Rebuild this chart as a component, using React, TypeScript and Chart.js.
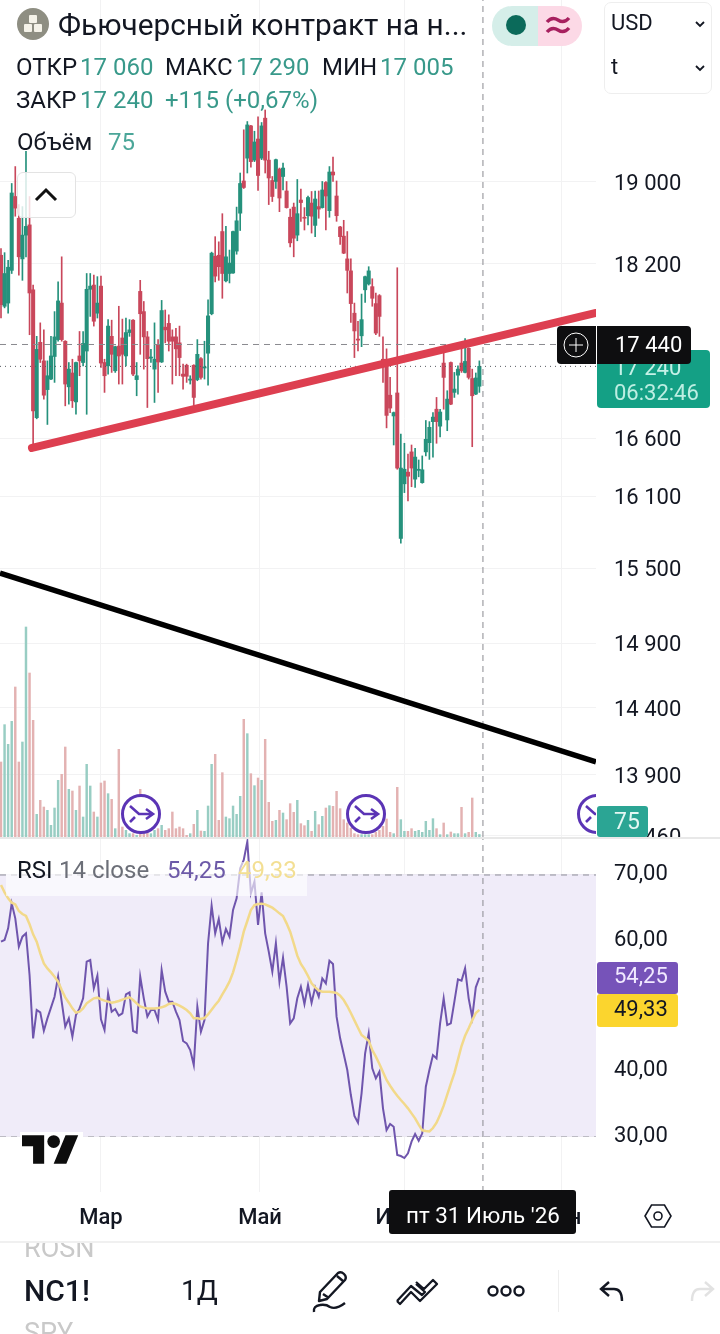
import React, { useEffect, useRef } from "react";
import { Chart, registerables } from "chart.js";

Chart.register(...registerables);

const opens = [
  18280,17795,17825,18135,18855,18640,18245,18475,18575,17950,
  16780,17460,17290,17030,17125,17330,17485,17825,17470,17055,
  17180,16920,17335,17275,17380,17955,17995,17730,17985,17275,
  17245,17515,17200,17425,17500,17335,17550,17665,17120,17935,
  17745,17510,17315,17215,17440,17280,17600,17635,17510,17510,
  17455,17170,17250,17115,17250,17120,17310,17225,17360,17725,
  18270,18280,18510,18035,18105,18110,18320,18690,19010,19240,
  19570,19220,19435,19240,19650,19220,19015,19005,19130,19055,
  18910,18650,18750,18475,18820,18650,18665,18790,18570,18755,
  18745,18995,18715,19100,18860,18555,18465,18245,18130,17730,
  17490,17520,17950,18005,17980,17820,17895,17305,17305,16980,
  16795,17000,15745,16205,16305,16480,16245,16320,16215,16480,
  16560,16745,16855,16705,17270,16760,17275,17005,17160,17270,
  17185,17405,17130,16990,17060,
];
const highs = [
  18345,18305,18230,18985,19155,18775,18755,19310,18855,17995,
  17515,17640,17575,17290,17515,17745,18025,18265,17475,17275,
  17305,17280,17560,17560,18105,18105,18090,18075,18080,17305,
  17670,17665,17425,17795,17675,17685,17670,17670,17275,18040,
  17840,17560,17395,17640,17485,17850,17760,17715,17575,17590,
  17610,17260,17260,17155,17255,17485,17320,17470,17855,18310,
  18460,18410,18685,18560,18330,18515,18750,19090,19530,19615,
  19575,19515,19665,19605,19735,19310,19055,19230,19140,19190,
  19005,18730,18790,19025,18930,18745,18860,18905,18910,18910,
  19005,19005,19155,19250,19010,18560,18620,18510,18245,17825,
  17655,17910,18080,18170,18055,17920,17905,17510,17400,17140,
  16830,18160,16635,16555,16460,16540,16510,16410,16445,16755,
  16745,16825,16960,16855,17360,17020,17280,17185,17245,17440,
  17495,17410,17215,17180,17290,
];
const lows = [
  17685,17780,17730,18105,18660,18090,18040,18265,17530,16525,
  16770,17275,16945,16720,17120,17095,17470,17470,16885,16900,
  16870,16810,17155,17245,16810,17700,17610,17685,17230,17005,
  17170,17185,17185,17080,17080,17245,17515,17155,16975,17350,
  17215,16870,17275,16915,17005,17275,17455,17380,17080,17155,
  17155,17035,17095,17080,16885,17110,17125,17125,17070,17715,
  18025,18040,17870,18025,18015,18105,18290,18520,18935,19090,
  19150,19205,18915,19225,19090,18775,18805,18935,18705,18920,
  18740,18360,18265,18420,18610,18525,18575,18495,18460,18640,
  18740,18525,18650,19005,18610,18385,18295,17920,17645,17320,
  17380,17420,17830,17995,17795,17530,17515,17095,16690,16825,
  16540,16330,15705,16130,16060,16180,16175,16265,16210,16445,
  16415,16435,16555,16610,16855,16665,16895,16960,16990,17185,
  17180,17125,16525,16985,17005,
];
const closes = [
  17810,18105,18165,18890,18740,18265,18475,18560,17920,16840,
  17395,17305,16980,17155,17335,17510,17845,17485,17080,17215,
  16930,17275,17290,17450,17955,17985,17655,17825,17270,17155,
  17610,17350,17420,17335,17350,17550,17575,17170,17155,17725,
  17510,17310,17325,17305,17280,17755,17575,17470,17470,17400,
  17320,17150,17150,17125,16960,17350,17140,17235,17705,18300,
  18080,18170,18105,18265,18205,18510,18615,18985,18945,19580,
  19205,19405,19065,19570,19220,19040,18855,19225,18840,19140,
  18745,18400,18445,18685,18795,18640,18845,18660,18830,18730,
  18920,18860,19100,19070,18665,18460,18300,18135,17820,17565,
  17480,17670,18075,18130,17870,17545,17700,17245,16800,16865,
  16825,16340,16340,16330,16270,16340,16435,16330,16325,16590,
  16695,16785,16745,16830,17140,16945,16900,17035,17215,17200,
  17285,17140,16975,17135,17240,
];
const volumes = [
  2250,3370,2780,3470,4500,2250,2850,6300,4920,3500,
  680,1100,900,800,350,870,1700,1880,2700,1430,
  1380,800,1530,600,2180,1530,750,600,1620,1680,
  1300,1130,250,2630,300,200,100,100,50,1430,
  100,120,100,200,250,350,200,250,750,250,
  300,250,50,100,380,800,180,170,930,2180,
  2480,500,1930,600,550,930,680,1220,3530,3100,
  1900,1540,1770,1700,2930,1040,470,500,800,720,
  520,1000,740,1100,400,340,500,170,770,370,
  620,870,940,920,1370,850,520,420,270,100,
  70,70,70,70,70,140,200,320,540,140,
  100,1490,520,170,170,250,170,200,140,470,
  200,550,250,70,420,70,150,100,100,890,
  100,140,1170,140,75,
];
const rsiValues = [
  59.78,60.04,61.83,65.66,63.36,59.02,60.55,61.06,54.67,44.97,
  49.31,48.95,46.14,48.03,49.67,51.35,54.42,50.59,46.75,48.03,
  45.22,48.54,49.56,51.10,56.72,56.97,52.63,54.57,47.88,46.24,
  51.86,49.05,49.46,48.44,48.80,51.71,52.02,46.09,45.83,54.42,
  51.10,48.29,49.31,49.31,47.78,55.44,52.12,50.59,50.59,49.05,
  47.78,44.56,44.20,43.18,40.88,49.82,45.99,47.78,59.53,65.30,
  61.06,63.26,59.68,61.72,60.55,64.64,66.42,71.02,72.30,75.11,
  67.19,68.98,62.34,67.34,61.06,58.25,55.18,59.53,53.65,57.33,
  52.88,47.26,48.03,51.10,52.88,50.23,53.14,50.43,52.78,51.35,
  54.16,53.39,56.87,56.36,48.29,44.97,42.56,40.11,36.28,33.06,
  32.04,36.54,42.67,45.73,40.37,38.83,39.86,34.24,30.92,31.84,
  31.43,27.08,26.93,26.62,27.34,29.13,30.30,29.28,30.41,37.56,
  40.11,42.41,41.90,47.26,51.10,47.01,47.26,50.59,54.01,53.80,
  55.69,51.10,48.18,52.79,54.25,
];
const rsiSmoothed = [
  68.47,67.34,66.42,65.76,65.50,64.48,64.02,63.72,62.44,60.91,
  59.78,57.99,56.46,55.69,55.08,54.42,53.65,52.37,51.25,50.43,
  49.56,48.90,49.05,49.56,50.33,50.74,51.10,51.20,50.94,50.74,
  50.59,50.43,50.53,50.69,50.89,51.10,51.25,50.84,50.33,49.87,
  49.67,49.56,49.56,49.56,49.62,49.72,49.92,50.23,50.33,50.23,
  49.97,49.67,49.31,48.80,48.03,48.03,47.93,48.08,48.64,49.36,
  50.08,50.74,51.71,52.63,53.65,55.08,56.97,59.02,61.31,62.95,
  64.64,65.40,65.56,65.61,65.50,65.25,64.99,64.58,64.12,63.72,
  62.59,61.31,59.53,57.64,56.36,55.54,54.52,53.40,52.78,52.32,
  52.12,52.12,52.12,52.02,51.91,51.51,50.84,49.92,48.85,47.72,
  46.60,45.48,45.07,44.61,43.18,42.16,41.03,39.81,38.58,37.71,
  36.89,36.18,35.51,34.90,34.24,33.47,32.70,31.73,30.87,30.76,
  30.71,31.22,32.04,33.27,34.65,36.33,38.02,39.65,41.70,43.79,
  45.37,46.50,47.72,48.85,49.33,
];

const priceTicks = [19000, 18200, 16600, 16100, 15500, 14900, 14400, 13900, 13460];
const rsiTicks = [70, 60, 40, 30];
const monthTicks = [28, 72.55, 113.05, 157.14];
const monthLabels = ["Мар", "Май", "Июль", "Сен"];

const X_MIN = -0.28;
const X_MAX = 166.67;
const PRICE_MIN = 13452;
const PRICE_MAX = 20913;
const VOL_MAX = 25110;
const RSI_MIN = 21.42;
const RSI_MAX = 75.67;
const CROSS_X = 135;
const CROSS_PRICE = 17440;
const LAST_PRICE = 17240;
const redTrend = [{ x: 8.68, y: 16514 }, { x: X_MAX, y: 17732 }];
const blackTrend = [{ x: X_MIN, y: 15460 }, { x: X_MAX, y: 13996 }];

const UP = "#25917c";
const DOWN = "#c9475b";
const UP_VOL = "#98cdc3";
const DOWN_VOL = "#e3b2b2";
const GRID = "#f2f2f3";
const INK = "#131722";
const TEAL_TEXT = "#38998a";
const FONT = "Roboto, sans-serif";

const hline = (y: number, color: string, dash: number[], order = 0) => ({
  type: "line" as const,
  data: [{ x: X_MIN, y }, { x: X_MAX, y }],
  borderColor: color,
  borderWidth: 1,
  borderDash: dash,
  pointRadius: 0,
  order,
});

const flatten = (s: any) => {
  s.paddingTop = 0;
  s.paddingBottom = 0;
  s.paddingLeft = 0;
  s.paddingRight = 0;
};

// Chart.js centres tick text a little above the tick; the reference sets it lower.
const nudgeLabels = (s: any, dy: number) => {
  if (s.__nudged) return;
  s.__nudged = true;
  const compute = s._computeLabelItems.bind(s);
  s._computeLabelItems = (area: any) => {
    const items = compute(area);
    items.forEach((it: any) => {
      it.options.translation = [it.options.translation[0], it.options.translation[1] + dy];
    });
    return items;
  };
};

const xScale = (height: number, showLabels: boolean) => ({
  type: "linear" as const,
  offset: false,
  min: X_MIN,
  max: X_MAX,
  afterBuildTicks: (s: any) => {
    s.ticks = monthTicks.map((value) => ({ value }));
  },
  afterFit: (s: any) => {
    s.height = height;
    flatten(s);
  },
  grid: { color: GRID, drawTicks: false, offset: false },
  border: { display: false },
  ticks: {
    display: showLabels,
    autoSkip: false,
    maxRotation: 0,
    padding: 13,
    color: INK,
    font: { family: FONT, size: 22, weight: "500" },
    callback: (v: any) => {
      const k = monthTicks.indexOf(Number(v));
      return k >= 0 ? monthLabels[k] : "";
    },
  },
});

function useChart(build: () => any) {
  const ref = useRef<HTMLCanvasElement | null>(null);
  useEffect(() => {
    if (!ref.current) return;
    const chart = new Chart(ref.current, build());
    return () => chart.destroy();
  }, []);
  return ref;
}

const priceConfig = () => {
  const idx = opens.map((_, i) => i);
  const candleColors = idx.map((i) => (closes[i] >= opens[i] ? UP : DOWN));
  return {
    type: "bar",
    data: {
      datasets: [
        { type: "line", data: redTrend, borderColor: "#dd3f50", borderWidth: 8, borderCapStyle: "round", pointRadius: 0, order: 0, yAxisID: "y" },
        { type: "line", data: blackTrend, borderColor: "#000000", borderWidth: 5.5, pointRadius: 0, order: 0, yAxisID: "y" },
        hline(CROSS_PRICE, "#8a8a8f", [6, 5], 1),
        hline(LAST_PRICE, "#55595f", [1, 4], 1),
        { type: "line", data: [{ x: CROSS_X, y: PRICE_MIN }, { x: CROSS_X, y: PRICE_MAX }], borderColor: "#8a8a8f", borderWidth: 1, borderDash: [6, 5], pointRadius: 0, order: 1 },
        { data: idx.map((i) => ({ x: i, y: [opens[i], closes[i]] })), backgroundColor: candleColors, barThickness: 3.4, grouped: false, order: 2, yAxisID: "y" },
        { data: idx.map((i) => ({ x: i, y: [lows[i], highs[i]] })), backgroundColor: candleColors, barThickness: 1, grouped: false, order: 3, yAxisID: "y" },
        { data: idx.map((i) => ({ x: i, y: volumes[i] })), backgroundColor: idx.map((i) => (closes[i] >= opens[i] ? UP_VOL : DOWN_VOL)), barThickness: 1.8, grouped: false, order: 4, yAxisID: "vol" },
      ],
    },
    options: {
      responsive: false,
      animation: false,
      layout: { padding: 0 },
      plugins: { legend: { display: false }, tooltip: { enabled: false } },
      scales: {
        x: xScale(0, false),
        y: {
          type: "logarithmic",
          position: "right",
          min: PRICE_MIN,
          max: PRICE_MAX,
          afterBuildTicks: (s: any) => {
            s.ticks = priceTicks.map((value) => ({ value }));
          },
          afterFit: (s: any) => {
            s.width = 124;
            flatten(s);
            nudgeLabels(s, 2.5);
          },
          grid: { color: GRID, drawTicks: false },
          border: { display: false },
          ticks: {
            autoSkip: false,
            padding: 18,
            color: INK,
            font: { family: FONT, size: 22 },
            callback: (v: any) => String(v).replace(/(\d{2})(\d{3})$/, "$1 $2"),
          },
        },
        vol: { type: "linear", display: false, min: 0, max: VOL_MAX },
      },
    },
  };
};

const rsiConfig = () => {
  const toPoints = (arr: number[]) => arr.map((y, x) => ({ x, y }));
  return {
    type: "line",
    data: {
      datasets: [
        { data: toPoints(rsiValues), borderColor: "#6f55ad", borderWidth: 2, pointRadius: 0, tension: 0, order: 1 },
        { data: toPoints(rsiSmoothed), borderColor: "#f2d98a", borderWidth: 2.5, pointRadius: 0, tension: 0, order: 0 },
        { ...hline(70, "#8f8f98", [6, 5], 3), fill: { value: 30 }, backgroundColor: "#f0ecf9" },
        hline(50, "#a2a0ab", [6, 5], 3),
        hline(30, "#8f8f98", [6, 5], 3),
        { data: [{ x: CROSS_X, y: RSI_MIN }, { x: CROSS_X, y: RSI_MAX }], borderColor: "#8a8a8f", borderWidth: 1, borderDash: [6, 5], pointRadius: 0, order: 2 },
      ],
    },
    options: {
      responsive: false,
      animation: false,
      layout: { padding: 0 },
      plugins: { legend: { display: false }, tooltip: { enabled: false } },
      scales: {
        x: xScale(48, true),
        y: {
          type: "linear",
          position: "right",
          min: RSI_MIN,
          max: RSI_MAX,
          afterBuildTicks: (s: any) => {
            s.ticks = rsiTicks.map((value) => ({ value }));
          },
          afterFit: (s: any) => {
            s.width = 124;
            flatten(s);
          },
          grid: { color: "#ebe8f1", drawTicks: false },
          border: { display: false },
          ticks: {
            autoSkip: false,
            padding: 18,
            color: INK,
            font: { family: FONT, size: 22 },
            callback: (v: any) => Number(v).toFixed(2).replace(".", ","),
          },
        },
      },
    },
  };
};

const T = ({ x, cy, size = 24, color = INK, weight = 400, children, extra }: any) => (
  <div
    style={{
      position: "absolute",
      left: x,
      top: cy - size,
      lineHeight: `${size * 2}px`,
      fontSize: size,
      color,
      fontWeight: weight,
      whiteSpace: "pre",
      ...extra,
    }}
  >
    {children}
  </div>
);

const Box = ({ x, y, w, h, bg, radius = 0, extra, children }: any) => (
  <div style={{ position: "absolute", left: x, top: y, width: w, height: h, background: bg, borderRadius: radius, ...extra }}>{children}</div>
);

const Svg = ({ x, y, w, h, children, vb }: any) => (
  <svg style={{ position: "absolute", left: x, top: y, overflow: "visible" }} width={w} height={h} viewBox={vb || `0 0 ${w} ${h}`} fill="none">
    {children}
  </svg>
);

const SplitIcon = ({ cx }: { cx: number }) => (
  <Svg x={cx - 21} y={793} w={42} h={42} vb="-21 -21 42 42">
    <circle r={18.5} fill="#fff" stroke="#5b34b5" strokeWidth={3} />
    <path d="M-11 -8 L-2 0 L12 0 M5 -5 L12 0 L5 5 M-11 8 L-6 3" stroke="#5b34b5" strokeWidth={2.6} />
  </Svg>
);

export default function App() {
  const priceRef = useChart(priceConfig);
  const rsiRef = useChart(rsiConfig);

  return (
    <div style={{ position: "absolute", left: 0, top: 0, width: 720, height: 1334, overflow: "hidden", background: "#fff", fontFamily: FONT }}>
      <style>{"html,body{margin:0;background:#fff}"}</style>
      <canvas ref={priceRef} width={720} height={837} style={{ position: "absolute", left: 0, top: 0, display: "block" }} />
      <canvas ref={rsiRef} width={720} height={402} style={{ position: "absolute", left: 0, top: 838, display: "block" }} />
      <Box x={0} y={837} w={720} h={2} bg="#e8e8e8" />

      <div style={{ position: "absolute", left: 0, top: 0, width: 596, height: 837, overflow: "hidden" }}>
        <SplitIcon cx={141} />
        <SplitIcon cx={366} />
        <SplitIcon cx={597} />
      </div>

      <Svg x={17} y={8} w={32} h={32}>
        <circle cx={16} cy={16} r={16} fill="#8e8e82" />
        <rect x={12} y={7} width={8} height={8} rx={1} fill="#f4f2e8" />
        <rect x={7} y={16} width={8} height={8} rx={1} fill="#f4f2e8" />
        <rect x={17} y={16} width={8} height={8} rx={1} fill="#f4f2e8" />
      </Svg>
      <T x={58} cy={25} size={29.8}>Фьючерсный контракт на н...</T>
      <div style={{ position: "absolute", left: 492, top: 6, width: 90, height: 40, borderRadius: 20, overflow: "hidden", display: "flex" }}>
        <div style={{ width: 46, background: "#d5eee9" }} />
        <div style={{ width: 44, background: "#fcd9e6" }} />
      </div>
      <Svg x={492} y={6} w={90} h={40}>
        <circle cx={24} cy={19} r={10} fill="#0b6a5a" />
        <path d="M55 16 q5 -6 11 -2 t11 -2 M55 26 q5 -6 11 -2 t11 -2" stroke="#a7205f" strokeWidth={3.4} />
      </Svg>
      <Box x={604} y={2} w={106} h={90} bg="#fff" radius={7} extra={{ border: "1px solid #eeeeee" }} />
      <T x={611} cy={23} size={22}>USD</T>
      <T x={611} cy={67} size={22}>t</T>
      <Svg x={694} y={20} w={12} h={8}><path d="M2 2 L6 6 L10 2" stroke={INK} strokeWidth={1.8} /></Svg>
      <Svg x={694} y={64} w={12} h={8}><path d="M2 2 L6 6 L10 2" stroke={INK} strokeWidth={1.8} /></Svg>

      <T x={16} cy={67}>ОТКР</T>
      <T x={80} cy={67} color={TEAL_TEXT}>17 060</T>
      <T x={165} cy={67}>МАКС</T>
      <T x={236} cy={67} color={TEAL_TEXT}>17 290</T>
      <T x={322} cy={67}>МИН</T>
      <T x={380} cy={67} color={TEAL_TEXT}>17 005</T>
      <T x={16} cy={100}>ЗАКР</T>
      <T x={80} cy={100} color={TEAL_TEXT}>17 240</T>
      <T x={165} cy={100} color={TEAL_TEXT}>+115 (+0,67%)</T>
      <T x={17} cy={142}>Объём</T>
      <T x={108} cy={142} color="#4ba699">75</T>

      <Box x={17} y={172} w={59} h={46} bg="rgba(255,255,255,0.82)" radius={6} extra={{ border: "1px solid #e3e3e3", boxSizing: "border-box" }} />
      <Svg x={34} y={187} w={24} h={16}><path d="M2 13 L12 3 L22 13" stroke="#111" strokeWidth={3} /></Svg>

      <Box x={597} y={350} w={113} h={58} bg="#14a085" radius={4} />
      <T x={614} cy={368} size={22} color="#c5f1e7">17 240</T>
      <T x={614} cy={393} size={22} color="#bdeee2">06:32:46</T>
      <Box x={557} y={326} w={134} h={38} bg="#0e0e10" radius={4} />
      <Box x={596} y={326} w={1} h={38} bg="#fff" />
      <Svg x={563} y={332} w={26} h={26}>
        <circle cx={13} cy={13} r={12} stroke="#fff" strokeWidth={1} />
        <path d="M13 6 V20 M6 13 H20" stroke="#fff" strokeWidth={1} />
      </Svg>
      <T x={615} cy={345} size={22} color="#fff">17 440</T>
      <Box x={597} y={806} w={51} h={31} bg="#2ba594" radius={3} />
      <T x={614} cy={822} size={23} color="#e4f7f3">75</T>

      <Box x={6} y={862} w={301} h={34} bg="rgba(255,255,255,0.62)" />
      <T x={17} cy={870} size={24}>RSI</T>
      <T x={59} cy={870} size={24} color="#6c6f78">14 close</T>
      <T x={167} cy={870} size={24} color="#6d5aa8">54,25</T>
      <T x={238} cy={870} size={24} color="#f3df93">49,33</T>
      <Box x={597} y={962} w={81} h={32} bg="#7653b9" radius={3} />
      <T x={614} cy={976} size={22} color="#f1e9ff">54,25</T>
      <Box x={597} y={994} w={81} h={33} bg="#fbd52e" radius={3} />
      <T x={614} cy={1009} size={22}>49,33</T>

      <Box x={20} y={1132} w={63} h={36} bg="#fff" />
      <Svg x={22} y={1135} w={57} h={29} vb="0 4 36 18">
        <path d="M14 22H7V11H0V4h14v18zM28 22h-8l7.5-18h8L28 22z" fill="#0d0d0d" />
        <circle cx={20} cy={8} r={4} fill="#0d0d0d" />
      </Svg>

      <Box x={389} y={1190} w={187} h={44} bg="#0e0e10" radius={3} />
      <T x={406} cy={1215} size={22.4} color="#fff">пт 31 Июль '26</T>
      <Svg x={644} y={1203} w={28} h={26}>
        <path d="M7.5 2 H20.5 L27 13 L20.5 24 H7.5 L1 13 Z" stroke={INK} strokeWidth={1.6} />
        <circle cx={14} cy={13} r={4} stroke={INK} strokeWidth={1.6} />
      </Svg>

      <div style={{ position: "absolute", left: 0, top: 1241, width: 720, height: 93, overflow: "hidden", background: "#fff", borderTop: "2px solid #f0f0f0", boxSizing: "border-box" }}>
        <T x={24} cy={5} size={27} color="#c9c9c9">ROSN</T>
        <T x={24} cy={48} size={30} weight={500}>NC1!</T>
        <T x={181} cy={48} size={28}>1Д</T>
        <T x={24} cy={90} size={27} color="#c9c9c9">SPY</T>
      </div>
      <Svg x={312} y={1270} w={38} h={44}>
        <path d="M8 22 L26 3 Q29 1 32 4 Q35 7 33 10 L15 29 L7 31 Z M11 24 L17 28 M25 6 L31 11" stroke={INK} strokeWidth={2.4} strokeLinejoin="round" />
        <path d="M2 42 Q1 36 8 35 Q14 34 18 37 Q24 40 33 33" stroke={INK} strokeWidth={2.4} />
      </Svg>
      <Svg x={395} y={1278} w={46} h={28}>
        <path d="M2 23 L16 8 L27 17 L30 14 L21 6 M2 23 L5 26 L16 14 L25 23 L42 6 L38 2 L29 11 L21 4" stroke={INK} strokeWidth={2.3} strokeLinejoin="round" />
      </Svg>
      <Svg x={487} y={1283} w={38} h={16}>
        <circle cx={6} cy={8} r={4.5} stroke={INK} strokeWidth={2.4} />
        <circle cx={19} cy={8} r={4.5} stroke={INK} strokeWidth={2.4} />
        <circle cx={32} cy={8} r={4.5} stroke={INK} strokeWidth={2.4} />
      </Svg>
      <Box x={558} y={1270} w={1} h={42} bg="#eeeeee" />
      <Svg x={598} y={1279} w={28} h={24}>
        <path d="M11 3 L3 10 L11 17 M3 10 H16 Q24 10 24 22" stroke={INK} strokeWidth={2.4} />
      </Svg>
      <Svg x={688} y={1279} w={28} h={24}>
        <path d="M17 3 L25 10 L17 17 M25 10 H12 Q4 10 4 22" stroke="#e2e2e2" strokeWidth={2.4} />
      </Svg>
    </div>
  );
}
